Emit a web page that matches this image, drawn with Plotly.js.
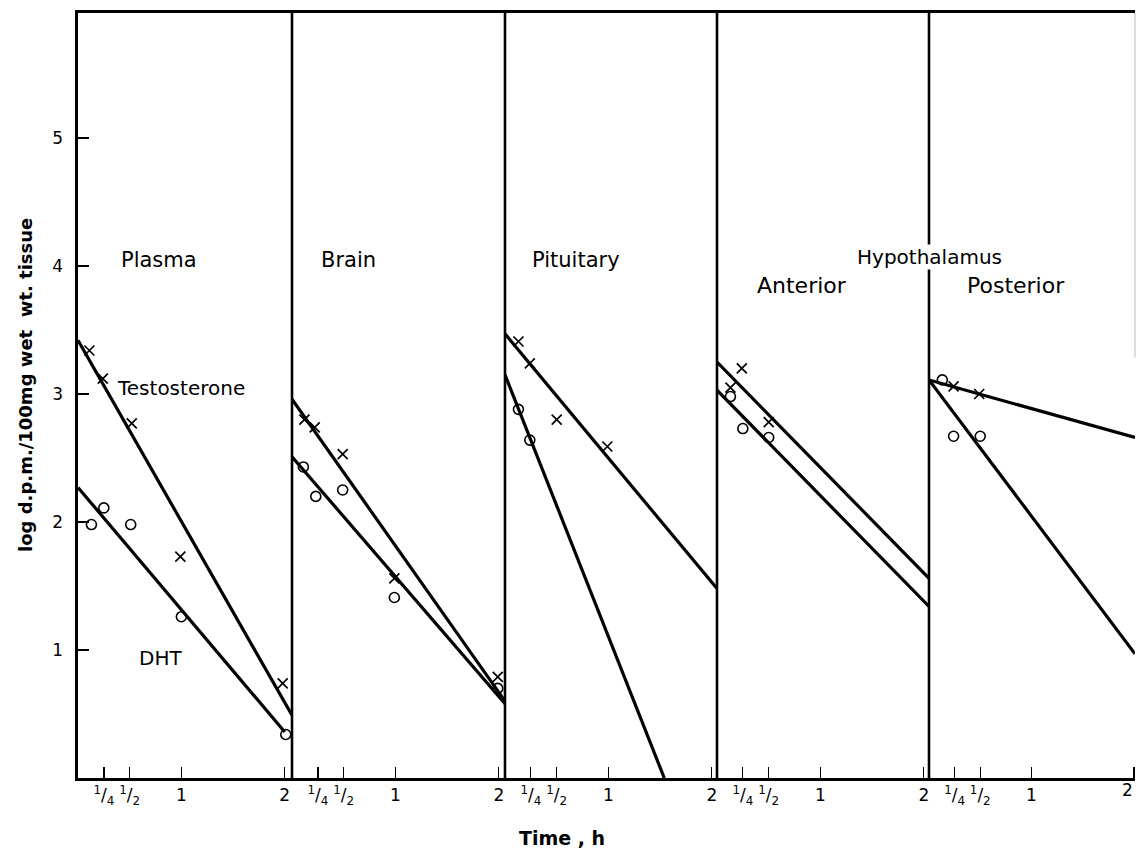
<!DOCTYPE html>
<html>
<head>
<meta charset="utf-8">
<script src="https://cdn.plot.ly/plotly-3.0.1.min.js"></script>
<style>html,body{margin:0;padding:0;background:#fff}#chart{width:1136px;height:850px}</style>
</head>
<body>
<div id="chart"></div>
<script>
// ---------- DATA (time in h, value in log d.p.m./100 mg wet wt. tissue) ----------
const panelNames = ['Plasma', 'Brain', 'Pituitary', 'Anterior', 'Posterior'];
const tickVals = [0.25, 0.5, 1, 2];
const tickText = ['<sup>1</sup>/<sub>4</sub>', '<sup>1</sup>/<sub>2</sub>', '1', '2'];
const yTickVals = [1, 2, 3, 4, 5];

// Plasma
const plasmaTestX = [0.11, 0.24, 0.52, 0.99, 1.98];
const plasmaTestY = [3.34, 3.12, 2.77, 1.73, 0.74];
const plasmaDhtX  = [0.13, 0.25, 0.51, 1.00, 2.01];
const plasmaDhtY  = [1.98, 2.11, 1.98, 1.26, 0.34];
const plasmaTestLineX = [0, 2.07];
const plasmaTestLineY = [3.42, 0.49];
const plasmaDhtLineX  = [0, 2.00];
const plasmaDhtLineY  = [2.27, 0.36];

// Brain
const brainTestX = [0.12, 0.22, 0.49, 0.99, 1.99];
const brainTestY = [2.80, 2.74, 2.53, 1.56, 0.79];
const brainDhtX  = [0.11, 0.23, 0.49, 0.99, 1.99];
const brainDhtY  = [2.43, 2.20, 2.25, 1.41, 0.70];
const brainTestLineX = [0, 2.06];
const brainTestLineY = [2.96, 0.60];
const brainDhtLineX  = [0, 2.06];
const brainDhtLineY  = [2.51, 0.58];

// Pituitary
const pituitaryTestX = [0.13, 0.24, 0.50, 0.99];
const pituitaryTestY = [3.41, 3.24, 2.80, 2.59];
const pituitaryDhtX  = [0.13, 0.24];
const pituitaryDhtY  = [2.88, 2.64];
const pituitaryTestLineX = [0, 2.05];
const pituitaryTestLineY = [3.47, 1.48];
const pituitaryDhtLineX  = [0, 1.54];
const pituitaryDhtLineY  = [3.15, 0.00];

// Hypothalamus - anterior
const anteriorTestX = [0.13, 0.24, 0.50];
const anteriorTestY = [3.05, 3.20, 2.78];
const anteriorDhtX  = [0.13, 0.25, 0.50];
const anteriorDhtY  = [2.98, 2.73, 2.66];
const anteriorTestLineX = [0, 2.05];
const anteriorTestLineY = [3.25, 1.56];
const anteriorDhtLineX  = [0, 2.05];
const anteriorDhtLineY  = [3.03, 1.34];

// Hypothalamus - posterior
const posteriorTestX = [0.24, 0.49];
const posteriorTestY = [3.06, 3.00];
const posteriorDhtX  = [0.13, 0.24, 0.50];
const posteriorDhtY  = [3.11, 2.67, 2.67];
const posteriorTestLineX = [0, 2.01];
const posteriorTestLineY = [3.11, 2.66];
const posteriorDhtLineX  = [0, 2.01];
const posteriorDhtLineY  = [3.11, 0.97];

const panels = [
  {tx: plasmaTestX, ty: plasmaTestY, dx: plasmaDhtX, dy: plasmaDhtY,
   tlx: plasmaTestLineX, tly: plasmaTestLineY, dlx: plasmaDhtLineX, dly: plasmaDhtLineY},
  {tx: brainTestX, ty: brainTestY, dx: brainDhtX, dy: brainDhtY,
   tlx: brainTestLineX, tly: brainTestLineY, dlx: brainDhtLineX, dly: brainDhtLineY},
  {tx: pituitaryTestX, ty: pituitaryTestY, dx: pituitaryDhtX, dy: pituitaryDhtY,
   tlx: pituitaryTestLineX, tly: pituitaryTestLineY, dlx: pituitaryDhtLineX, dly: pituitaryDhtLineY},
  {tx: anteriorTestX, ty: anteriorTestY, dx: anteriorDhtX, dy: anteriorDhtY,
   tlx: anteriorTestLineX, tly: anteriorTestLineY, dlx: anteriorDhtLineX, dly: anteriorDhtLineY},
  {tx: posteriorTestX, ty: posteriorTestY, dx: posteriorDhtX, dy: posteriorDhtY,
   tlx: posteriorTestLineX, tly: posteriorTestLineY, dlx: posteriorDhtLineX, dly: posteriorDhtLineY}
];

// ---------- LAYOUT ----------
const W = 1136, H = 850, L = 78, R = 1, T = 13, B = 72;
const plotW = W - L - R, plotH = H - T - B;
const edgesPx = [78, 292, 505, 717, 929, 1135];
const xMax = [2.07, 2.06, 2.05, 2.05, 2.01];
const FONT = 'DejaVu Sans, Liberation Sans, sans-serif';
const fx = px => (px - L) / plotW;
const fy = py => (H - B - py) / plotH;

const traces = [];
panels.forEach((p, i) => {
  const xa = i === 0 ? 'x' : 'x' + (i + 1);
  traces.push({x: p.tlx, y: p.tly, xaxis: xa, yaxis: 'y', mode: 'lines',
    line: {color: '#000', width: 3.2}, hoverinfo: 'skip', showlegend: false});
  traces.push({x: p.dlx, y: p.dly, xaxis: xa, yaxis: 'y', mode: 'lines',
    line: {color: '#000', width: 3.2}, hoverinfo: 'skip', showlegend: false});
  traces.push({x: p.tx, y: p.ty, xaxis: xa, yaxis: 'y', mode: 'markers', name: 'Testosterone',
    marker: {symbol: 'x-thin-open', size: 10, color: '#000', line: {color: '#000', width: 1.7}},
    cliponaxis: false, showlegend: false});
  traces.push({x: p.dx, y: p.dy, xaxis: xa, yaxis: 'y', mode: 'markers', name: 'DHT',
    marker: {symbol: 'circle-open', size: 10, color: '#000', line: {color: '#000', width: 1.6}},
    cliponaxis: false, showlegend: false});
});

const layout = {
  width: W, height: H,
  margin: {l: L, r: R, t: T, b: B, pad: 0},
  paper_bgcolor: '#fff', plot_bgcolor: '#fff',
  font: {family: FONT, color: '#000', size: 17},
  showlegend: false,
  yaxis: {
    anchor: 'x', domain: [0, 1], range: [0, plotH / 128],
    tickvals: yTickVals, ticks: 'inside', ticklen: 11, tickwidth: 1.5, tickcolor: '#000',
    showline: true, linewidth: 2.6, linecolor: '#000',
    showgrid: false, zeroline: false, ticklabelstandoff: 9,
    tickfont: {size: 17, family: FONT}
  },
  shapes: [],
  annotations: []
};

for (let i = 0; i < 5; i++) {
  const key = i === 0 ? 'xaxis' : 'xaxis' + (i + 1);
  layout[key] = {
    anchor: 'y', domain: [fx(edgesPx[i]), fx(edgesPx[i + 1])], range: [0, xMax[i]],
    tickvals: tickVals, ticktext: tickText,
    ticks: 'inside', ticklen: 11, tickwidth: 1.3, tickcolor: '#000',
    showline: true, mirror: true, linewidth: 2.6, linecolor: '#000',
    showgrid: false, zeroline: false,
    tickfont: {size: 17, family: FONT}
  };
  if (i > 0) {
    layout.shapes.push({type: 'line', xref: 'paper', yref: 'paper',
      x0: fx(edgesPx[i]), x1: fx(edgesPx[i]), y0: 0, y1: 1,
      line: {color: '#000', width: 2.6}});
  }
}
// faint right edge
layout.shapes.push({type: 'line', xref: 'paper', yref: 'paper', x0: 1, x1: 1, y0: 0.55, y1: 1,
  line: {color: '#bbb', width: 1}});

function ann(text, xref, x, y, size, extra) {
  layout.annotations.push(Object.assign({text: text, xref: xref, yref: 'y', x: x, y: y,
    showarrow: false, font: {family: FONT, size: size, color: '#000'},
    xanchor: 'center', yanchor: 'middle'}, extra || {}));
}
ann(panelNames[0], 'x', 0.78, 4.05, 21);
ann(panelNames[1], 'x2', 0.55, 4.05, 21);
ann(panelNames[2], 'x3', 0.69, 4.05, 21);
ann(panelNames[3], 'x4', 0.82, 3.85, 22);
ann(panelNames[4], 'x5', 0.85, 3.85, 22);
ann('Hypothalamus', 'x5', 0.0, 4.07, 20, {bgcolor: '#fff', borderpad: 0});
ann('Testosterone', 'x', 1.0, 3.05, 20);
ann('DHT', 'x', 0.80, 0.94, 20);

// last panel's "2" tick label, kept just inside the right edge
layout.annotations.push({text: tickText[3], xref: 'x5', yref: 'paper', x: xMax[4], y: fy(790),
  showarrow: false, xanchor: 'right', yanchor: 'middle', font: {family: FONT, size: 17, color: '#000'}});

// axis titles
layout.annotations.push({text: '<b>log d.p.m./100mg wet  wt. tissue</b>', xref: 'paper', yref: 'paper',
  x: fx(25), y: fy(385), textangle: -90, showarrow: false, xanchor: 'center', yanchor: 'middle',
  font: {family: FONT, size: 18, color: '#000'}});
layout.annotations.push({text: '<b>Time , h</b>', xref: 'paper', yref: 'paper',
  x: fx(562), y: fy(838), showarrow: false, xanchor: 'center', yanchor: 'middle',
  font: {family: FONT, size: 19, color: '#000'}});

Plotly.newPlot('chart', traces, layout, {staticPlot: true, displayModeBar: false});
</script>
</body>
</html>
